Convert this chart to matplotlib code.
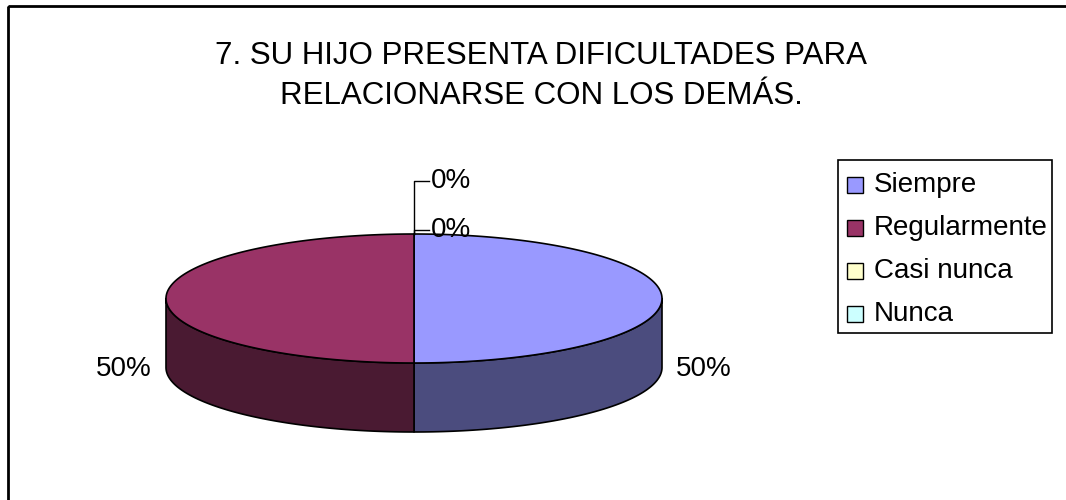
import numpy as np
import matplotlib
matplotlib.use('Agg')
import matplotlib.pyplot as plt
from matplotlib.patches import Polygon, Rectangle

plt.rcParams['font.family'] = ['Liberation Sans', 'DejaVu Sans']

# datos de la encuesta
titulo = '7. SU HIJO PRESENTA DIFICULTADES PARA\nRELACIONARSE CON LOS DEMÁS.'
categorias = ['Siempre', 'Regularmente', 'Casi nunca', 'Nunca']
valores = [50, 50, 0, 0]
colores_sup = ['#9999FF', '#993366', '#FFFFCC', '#CCFFFF']
colores_lado = ['#4B4C7E', '#4A1A32', '#80806A', '#6A8080']

# geometria del pastel 3D (en pixeles)
cx, cy = 414, 298.5
rx, ry = 248, 64.5
prof = 69

fig = plt.figure(figsize=(10.66, 5.0), dpi=100)
ax = fig.add_axes([0, 0, 1, 1])
ax.set_xlim(0, 1066)
ax.set_ylim(500, 0)
ax.axis('off')

# marco exterior
ax.add_patch(Rectangle((8, 6), 1080, 520, fill=False, edgecolor='black', lw=2))


def punto(t, dy=0):
    # t en grados, desde las 12 en sentido horario
    r = np.radians(t)
    return cx + rx * np.sin(r), cy - ry * np.cos(r) + dy


total = sum(valores)
angulos = np.cumsum([0] + [v / total * 360 for v in valores])

# caras laterales (solo la mitad frontal, 90..270)
for i in range(len(valores)):
    a0, a1 = angulos[i], angulos[i + 1]
    lo, hi = max(a0, 90), min(a1, 270)
    if hi <= lo:
        continue
    ts = np.linspace(lo, hi, 80)
    arriba = [punto(t) for t in ts]
    abajo = [punto(t, prof) for t in ts[::-1]]
    ax.add_patch(Polygon(arriba + abajo, closed=True, facecolor=colores_lado[i],
                         edgecolor='black', lw=1.2, joinstyle='round'))

# caras superiores
for i in range(len(valores)):
    a0, a1 = angulos[i], angulos[i + 1]
    if a1 <= a0:
        continue
    ts = np.linspace(a0, a1, 160)
    pts = [(cx, cy)] + [punto(t) for t in ts]
    ax.add_patch(Polygon(pts, closed=True, facecolor=colores_sup[i],
                         edgecolor='black', lw=1.2, joinstyle='round'))

# etiquetas de porcentaje
ceros = 0
for i, v in enumerate(valores):
    pct = f'{round(v / total * 100)}%'
    mid = (angulos[i] + angulos[i + 1]) / 2
    if v > 0:
        r = np.radians(mid)
        x = cx + (rx + 42) * np.sin(r)
        y = cy - ry * np.cos(r) + prof + 1
        ax.text(x, y, pct, fontsize=20, ha='center', va='center')
    else:
        x0, y0 = punto(mid)
        ylab = [230, 181][ceros]
        ax.plot([x0, x0, x0 + 15], [y0, ylab, ylab], color='black', lw=1)
        ax.text(x0 + 17, ylab, pct, fontsize=20, ha='left', va='center')
        ceros += 1

# titulo
ax.text(541, 76, titulo, fontsize=22.5, ha='center', va='center', linespacing=1.45)

# leyenda
ax.add_patch(Rectangle((838, 160), 214, 173, fill=False, edgecolor='black', lw=1.2))
for i, cat in enumerate(categorias):
    y = 185 + i * 43
    ax.add_patch(Rectangle((847, y - 8), 16, 16, facecolor=colores_sup[i],
                           edgecolor='black', lw=1))
    ax.text(874, y, cat, fontsize=20, ha='left', va='center')

fig.savefig('out.png', dpi=100)
